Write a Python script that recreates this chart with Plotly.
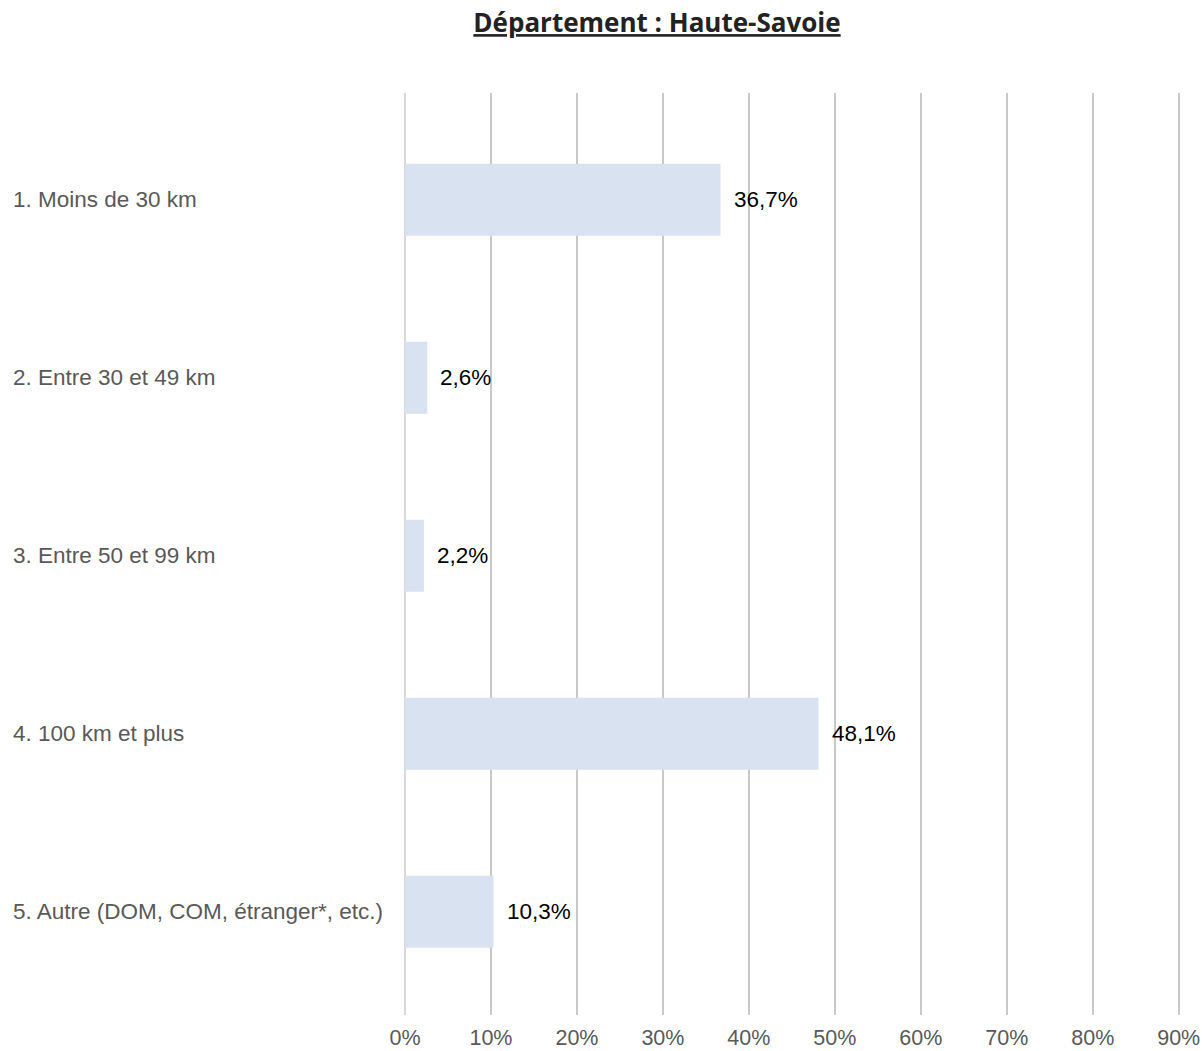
import plotly.graph_objects as go

categories = ["1. Moins de 30 km", "2. Entre 30 et 49 km", "3. Entre 50 et 99 km",
              "4. 100 km et plus", "5. Autre (DOM, COM, étranger*, etc.)"]
values = [36.7, 2.6, 2.2, 48.1, 10.3]
value_labels = ["36,7%", "2,6%", "2,2%", "48,1%", "10,3%"]
tick_vals = [0, 10, 20, 30, 40, 50, 60, 70, 80, 90]
tick_text = ["0%", "10%", "20%", "30%", "40%", "50%", "60%", "70%", "80%", "90%"]

W, H = 1202, 1051
ml, mr, mt, mb = 405, 22, 93, 36
pw = W - ml - mr

fig = go.Figure()
fig.add_trace(go.Bar(
    x=values, y=categories, orientation="h",
    marker=dict(color="#d9e2f0", line=dict(width=0)),
    width=0.405, hoverinfo="skip",
))

annotations = []
for c, v, t in zip(categories, values, value_labels):
    annotations.append(dict(x=v, y=c, xref="x", yref="y", text=t, showarrow=False,
                            xanchor="left", xshift=11,
                            font=dict(family="Liberation Sans, Arial", size=22.5, color="#000000")))
    annotations.append(dict(x=(11 - ml) / pw, y=c, xref="paper", yref="y", text=c,
                            showarrow=False, xanchor="left",
                            font=dict(family="Liberation Sans, Arial", size=22.5, color="#595959")))

fig.update_layout(
    width=W, height=H,
    margin=dict(l=ml, r=mr, t=mt, b=mb, autoexpand=False),
    paper_bgcolor="white", plot_bgcolor="white",
    showlegend=False,
    title=dict(text="<b><u>Département : Haute-Savoie</u></b>",
               xref="container", x=657 / W, xanchor="center",
               yref="container", y=1 - 23 / H, yanchor="middle",
               font=dict(family="Open Sans", size=26, color="#222222")),
    xaxis=dict(range=[0, 90.15], tickvals=tick_vals, ticktext=tick_text,
               showgrid=True, gridcolor="#c9c9c9", gridwidth=2,
               zeroline=True, zerolinecolor="#d8d8d8", zerolinewidth=2,
               showline=False, ticks="", automargin=False, ticklabelstandoff=7,
               tickfont=dict(family="Liberation Sans, Arial", size=21.5, color="#595959"),
               fixedrange=True),
    yaxis=dict(categoryorder="array", categoryarray=categories,
               range=[4.58, -0.60], showticklabels=False, showgrid=False,
               zeroline=False, showline=False, ticks="", automargin=False,
               fixedrange=True),
    annotations=annotations,
    bargap=0.6,
)

fig.write_html(
    "out.html",
    config={"displayModeBar": False},
    post_script="document.body.style.margin='0px';document.documentElement.style.overflow='hidden';",
)
